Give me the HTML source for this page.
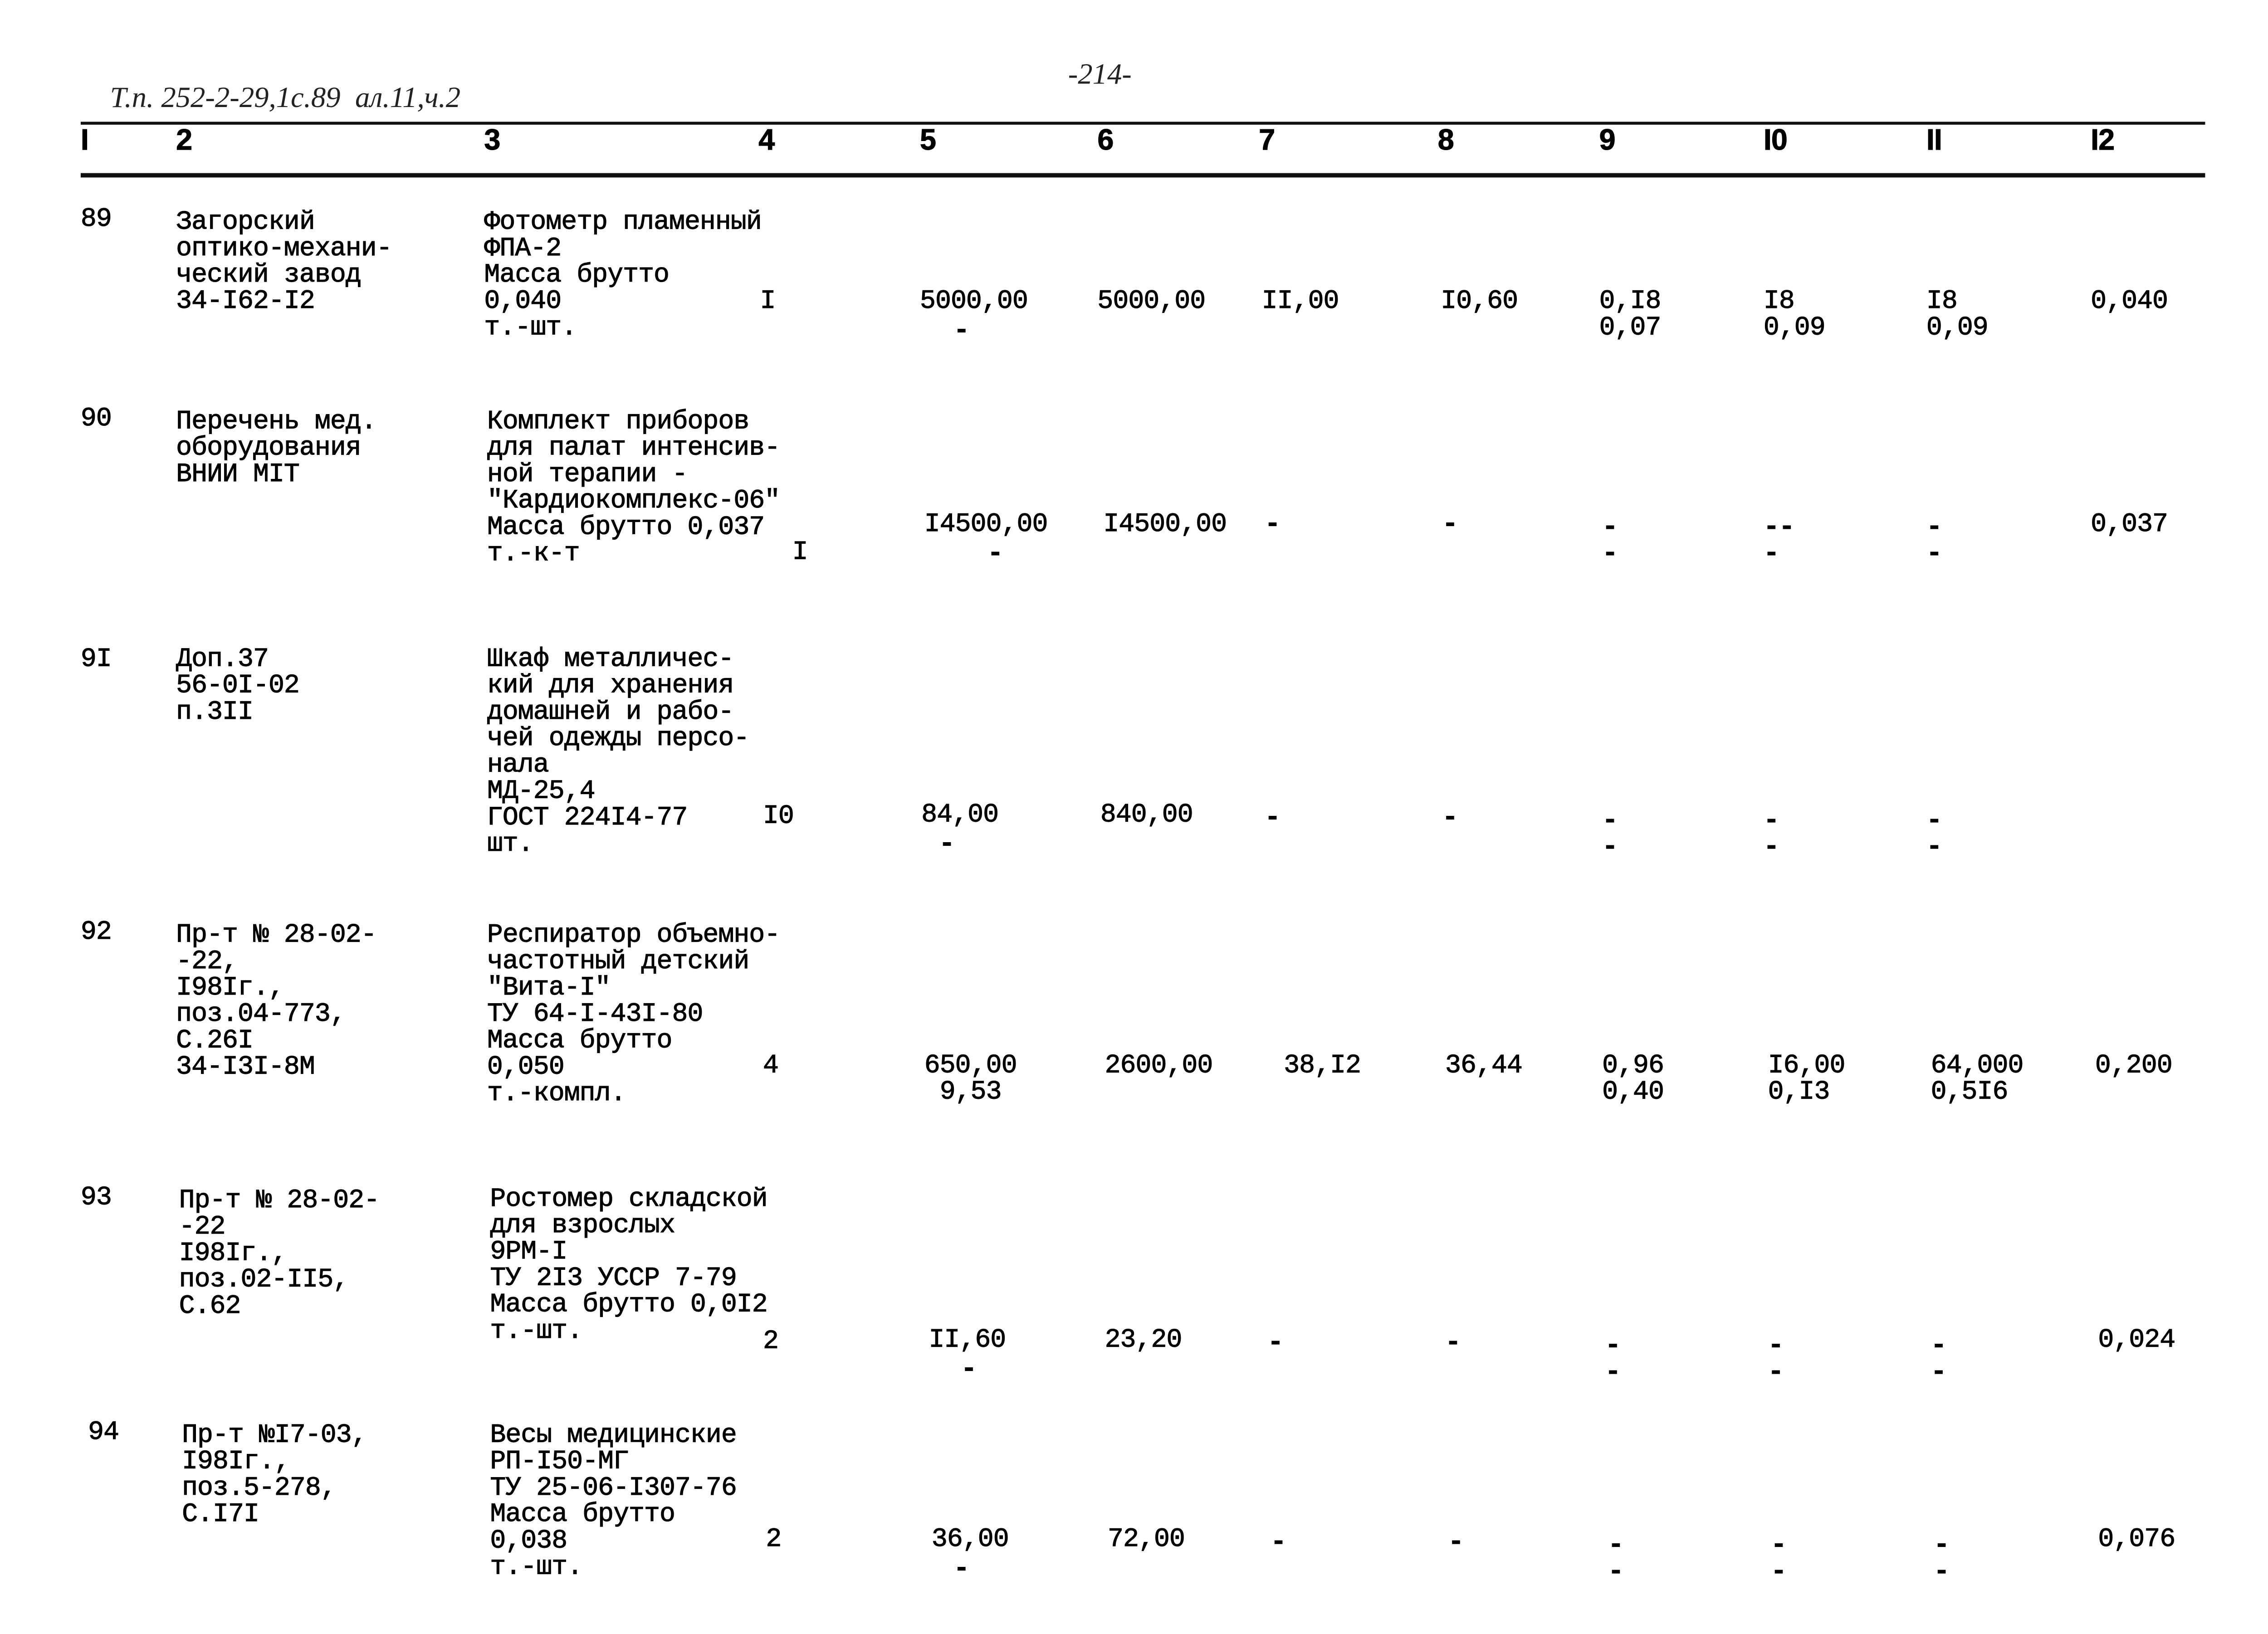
<!DOCTYPE html>
<html><head><meta charset="utf-8">
<style>
html,body{margin:0;padding:0;background:#fff;}
body{width:5020px;height:3603px;overflow:hidden;}
#p{position:absolute;left:0;top:0;width:1552px;height:1114px;transform:scale(3.2345);transform-origin:0 0;}
.t{position:absolute;font:18px/18px "Liberation Mono","DejaVu Sans Mono",monospace;white-space:pre;color:#000;letter-spacing:-0.3px;-webkit-text-stroke:0.35px #000;}
.h{font-weight:bold;font-family:"Liberation Sans",sans-serif;font-size:20px;}
.d{font-weight:bold;}
.l{position:absolute;background:#111;}
.hw{position:absolute;font:italic 20px "Liberation Serif",serif;color:#222;white-space:pre;}
</style></head><body><div id="p">
<div class="hw" style="left:75px;top:56px;">Т.п. 252-2-29,1с.89  ал.11,ч.2</div>
<div class="hw" style="left:728px;top:40px;">-214-</div>
<div class="l" style="left:55px;top:83px;width:1448px;height:2px;"></div>
<div class="l" style="left:55px;top:118px;width:1448px;height:3px;"></div>

<div class="t h" style="left:55px;top:87px;">I</div>
<div class="t h" style="left:120px;top:87px;">2</div>
<div class="t h" style="left:330px;top:87px;">3</div>
<div class="t h" style="left:517px;top:87px;">4</div>
<div class="t h" style="left:627px;top:87px;">5</div>
<div class="t h" style="left:748px;top:87px;">6</div>
<div class="t h" style="left:858px;top:87px;">7</div>
<div class="t h" style="left:980px;top:87px;">8</div>
<div class="t h" style="left:1090px;top:87px;">9</div>
<div class="t h" style="left:1202px;top:87px;">I0</div>
<div class="t h" style="left:1313px;top:87px;">II</div>
<div class="t h" style="left:1425px;top:87px;">I2</div>

<!-- 89 -->
<div class="t" style="left:55px;top:141px;">89</div>
<div class="t" style="left:120px;top:143px;">Загорский
оптико-механи-
ческий завод
34-I62-I2</div>
<div class="t" style="left:330px;top:143px;">Фотометр пламенный
ФПА-2
Масса брутто
0,040
т.-шт.</div>
<div class="t" style="left:518px;top:197px;">I</div>
<div class="t" style="left:627px;top:197px;">5000,00</div>
<div class="t d" style="left:650px;top:217px;">-</div>
<div class="t" style="left:748px;top:197px;">5000,00</div>
<div class="t" style="left:860px;top:197px;">II,00</div>
<div class="t" style="left:982px;top:197px;">I0,60</div>
<div class="t" style="left:1090px;top:197px;">0,I8
0,07</div>
<div class="t" style="left:1202px;top:197px;">I8
0,09</div>
<div class="t" style="left:1313px;top:197px;">I8
0,09</div>
<div class="t" style="left:1425px;top:197px;">0,040</div>

<!-- 90 -->
<div class="t" style="left:55px;top:277px;">90</div>
<div class="t" style="left:120px;top:279px;">Перечень мед.
оборудования
ВНИИ МIТ</div>
<div class="t" style="left:332px;top:279px;">Комплект приборов
для палат интенсив-
ной терапии -
"Кардиокомплекс-06"
Масса брутто 0,037
т.-к-т</div>
<div class="t" style="left:540px;top:368px;">I</div>
<div class="t" style="left:630px;top:349px;">I4500,00</div>
<div class="t d" style="left:673px;top:369px;">-</div>
<div class="t" style="left:752px;top:349px;">I4500,00</div>
<div class="t d" style="left:862px;top:349px;">-</div>
<div class="t d" style="left:983px;top:349px;">-</div>
<div class="t d" style="left:1092px;top:351px;">-
-</div>
<div class="t d" style="left:1202px;top:351px;">--
-</div>
<div class="t d" style="left:1313px;top:351px;">-
-</div>
<div class="t" style="left:1425px;top:349px;">0,037</div>

<!-- 91 -->
<div class="t" style="left:55px;top:441px;">9I</div>
<div class="t" style="left:120px;top:441px;">Доп.37
56-0I-02
п.3II</div>
<div class="t" style="left:332px;top:441px;">Шкаф металличес-
кий для хранения
домашней и рабо-
чей одежды персо-
нала
МД-25,4
ГОСТ 224I4-77
шт.</div>
<div class="t" style="left:520px;top:548px;">I0</div>
<div class="t" style="left:628px;top:547px;">84,00</div>
<div class="t d" style="left:640px;top:567px;">-</div>
<div class="t" style="left:750px;top:547px;">840,00</div>
<div class="t d" style="left:862px;top:549px;">-</div>
<div class="t d" style="left:983px;top:549px;">-</div>
<div class="t d" style="left:1092px;top:551px;">-
-</div>
<div class="t d" style="left:1202px;top:551px;">-
-</div>
<div class="t d" style="left:1313px;top:551px;">-
-</div>

<!-- 92 -->
<div class="t" style="left:55px;top:627px;">92</div>
<div class="t" style="left:120px;top:629px;">Пр-т № 28-02-
-22,
I98Iг.,
поз.04-773,
С.26I
34-I3I-8М</div>
<div class="t" style="left:332px;top:629px;">Респиратор объемно-
частотный детский
"Вита-I"
ТУ 64-I-43I-80
Масса брутто
0,050
т.-компл.</div>
<div class="t" style="left:520px;top:718px;">4</div>
<div class="t" style="left:630px;top:718px;">650,00
 9,53</div>
<div class="t" style="left:753px;top:718px;">2600,00</div>
<div class="t" style="left:875px;top:718px;">38,I2</div>
<div class="t" style="left:985px;top:718px;">36,44</div>
<div class="t" style="left:1092px;top:718px;">0,96
0,40</div>
<div class="t" style="left:1205px;top:718px;">I6,00
0,I3</div>
<div class="t" style="left:1316px;top:718px;">64,000
0,5I6</div>
<div class="t" style="left:1428px;top:718px;">0,200</div>

<!-- 93 -->
<div class="t" style="left:55px;top:808px;">93</div>
<div class="t" style="left:122px;top:810px;">Пр-т № 28-02-
-22
I98Iг.,
поз.02-II5,
С.62</div>
<div class="t" style="left:334px;top:809px;">Ростомер складской
для взрослых
9РМ-I
ТУ 2I3 УССР 7-79
Масса брутто 0,0I2
т.-шт.</div>
<div class="t" style="left:520px;top:906px;">2</div>
<div class="t" style="left:633px;top:905px;">II,60</div>
<div class="t d" style="left:655px;top:925px;">-</div>
<div class="t" style="left:753px;top:905px;">23,20</div>
<div class="t d" style="left:864px;top:907px;">-</div>
<div class="t d" style="left:985px;top:907px;">-</div>
<div class="t d" style="left:1094px;top:909px;">-
-</div>
<div class="t d" style="left:1205px;top:909px;">-
-</div>
<div class="t d" style="left:1316px;top:909px;">-
-</div>
<div class="t" style="left:1430px;top:905px;">0,024</div>

<!-- 94 -->
<div class="t" style="left:60px;top:968px;">94</div>
<div class="t" style="left:124px;top:970px;">Пр-т №I7-03,
I98Iг.,
поз.5-278,
С.I7I</div>
<div class="t" style="left:334px;top:970px;">Весы медицинские
РП-I50-МГ
ТУ 25-06-I307-76
Масса брутто
0,038
т.-шт.</div>
<div class="t" style="left:522px;top:1041px;">2</div>
<div class="t" style="left:635px;top:1041px;">36,00</div>
<div class="t d" style="left:650px;top:1061px;">-</div>
<div class="t" style="left:755px;top:1041px;">72,00</div>
<div class="t d" style="left:866px;top:1043px;">-</div>
<div class="t d" style="left:987px;top:1043px;">-</div>
<div class="t d" style="left:1096px;top:1045px;">-
-</div>
<div class="t d" style="left:1207px;top:1045px;">-
-</div>
<div class="t d" style="left:1318px;top:1045px;">-
-</div>
<div class="t" style="left:1430px;top:1041px;">0,076</div>
</div></body></html>
